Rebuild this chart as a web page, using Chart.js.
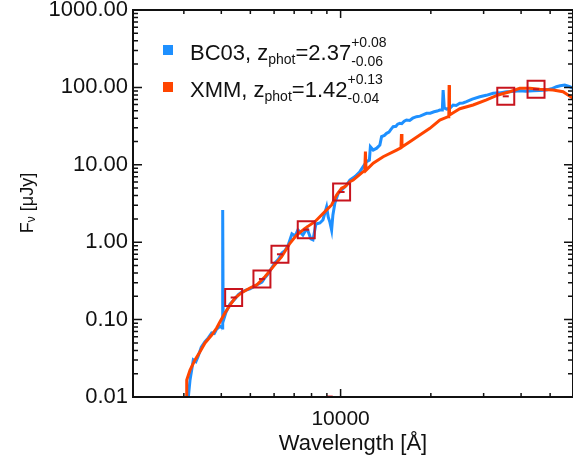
<!DOCTYPE html>
<html>
<head>
<meta charset="utf-8">
<script src="https://cdn.jsdelivr.net/npm/chart.js@4/dist/chart.umd.min.js"></script>
<style>
html, body { margin: 0; padding: 0; background: #fff; }
#wrap { width: 573px; height: 458px; }
</style>
</head>
<body>
<div id="wrap"><canvas id="sed" width="573" height="458"></canvas></div>
<script>
// BC03 best fit spectrum (observed wavelength in Angstrom, flux in microJy)
var bcWave = [3097, 3146, 3226, 3290, 3344, 3430, 3529, 3620, 3715, 3790, 3860, 3960, 4030, 4043, 4058, 4148,
  4276, 4443, 4560, 4677, 4830, 4983, 5120, 5248, 5465, 5600, 5724, 5880, 6039, 6200, 6372, 6520, 6673, 6881,
  7050, 7204, 7486, 7721, 7962, 8086, 8273, 8531, 8730, 8981, 9092, 9210, 9333, 9426, 9572, 9817, 10471, 10740,
  11200, 11594, 11893, 12209, 12474, 12570, 12845, 13200, 13521, 13699, 14000, 14234, 14500, 14700, 14973,
  15300, 15500, 15763, 16000, 16300, 16596, 17000, 17400, 17918, 18400, 18900, 19353, 19900, 20500, 21000,
  21429, 21844, 21979, 22182, 22600, 23135, 23728, 24300, 24984, 25600, 26303, 27500, 29126, 30600, 32276,
  33900, 35752, 37500, 39603, 41500, 43853, 46000, 48608, 50500, 52481, 54000, 55947, 58131, 59620];
var bcFlux = [0.009, 0.0166, 0.0301, 0.0285, 0.0332, 0.044, 0.0518, 0.058, 0.0671, 0.066, 0.0756, 0.082, 0.078,
  2.61, 0.095, 0.125, 0.159, 0.185, 0.21, 0.227, 0.24, 0.25, 0.265, 0.28, 0.306, 0.35, 0.388, 0.46, 0.539, 0.60,
  0.725, 0.78, 0.893, 1.28, 1.20, 1.44, 1.24, 1.52, 1.10, 1.07, 1.72, 1.77, 1.94, 2.85, 2.12, 1.82, 1.44, 2.25,
  3.21, 4.28, 5.48, 6.36, 7.1, 8.15, 9.45, 10.97, 11.5, 17.1, 15.5, 16.4, 18.0, 23.1, 24.0, 25.5, 26.5, 28.5,
  31.1, 31.5, 33.5, 34.4, 34.0, 36.5, 37.9, 37.5, 40.0, 41.8, 42.5, 44.5, 46.3, 46.5, 48.5, 49.5, 51.0, 51.0,
  92.6, 54.2, 52.5, 53.7, 59.2, 58.5, 62.3, 63.0, 65.3, 70.5, 75.8, 79.0, 83.9, 85.0, 88.0, 88.5, 90.7, 89.5,
  90.7, 91.5, 92.6, 96.0, 102, 105, 107.4, 102, 97.4];

// XMM template
var xmmWave = [3050, 3067, 3146, 3268, 3396, 3529, 3715, 3860, 3960, 4114, 4276, 4443, 4677, 4983, 5248, 5594,
  5962, 6360, 6776, 7134, 7603, 8210, 8865, 9333, 9698, 10077, 10335, 10740, 11015, 11893, 12040, 12100, 12160,
  12845, 13868, 15371, 15900, 15960, 16020, 17022, 18378, 19851, 21429, 22846, 22960, 23014, 23080, 24044,
  24984, 27669, 30668, 33521, 36667, 39603, 42756, 46157, 51133, 55208, 57372, 59620];
var xmmFlux = [0.009, 0.0166, 0.0223, 0.0301, 0.0385, 0.0499, 0.0632, 0.0779, 0.094, 0.122, 0.154, 0.190, 0.223,
  0.256, 0.280, 0.358, 0.483, 0.650, 0.968, 1.24, 1.51, 1.84, 2.48, 3.03, 4.07, 4.97, 5.21, 6.05, 6.36, 8.15,
  8.4, 14.8, 8.5, 10.5, 12.7, 15.5, 16.6, 25, 17, 19.9, 24.3, 29.6, 37.9, 41.8, 42.5, 107, 44, 48.5, 53, 59.2,
  68.8, 79.8, 88.0, 97.4, 97.4, 94.5, 92.6, 88.0, 79.8, 72.3];

// photometry
var photWave = [4398, 5465, 6276, 7680, 10077, 35560, 44870];
var photFlux = [0.193, 0.335, 0.698, 1.45, 4.45, 76.7, 94.8];
var limitWave = [9200];
var limitFlux = [0.01];

var yTicks = [0.01, 0.1, 1, 10, 100, 1000];
var xTicks = [10000];
var xMinor = [3000, 4000, 5000, 6000, 7000, 8000, 9000, 20000, 30000, 40000, 50000];

var FONT = '"Liberation Sans", Arial, Helvetica, sans-serif';
var INK = '#111';
var BLUE = '#1E90FF';
var ORANGE = '#FF4500';
var RED = '#C8141E';

var toPts = (xs, ys) => xs.map((x, i) => ({x: x, y: ys[i]}));

// draw a run of text pieces, each with its own size and vertical shift
var drawRich = (ctx, x, y, parts) => {
    parts.forEach((p) => {
        ctx.font = p.size + 'px ' + FONT;
        if (p.sup) {
            ctx.fillText(p.sup, x, y - 12.5);
            ctx.fillText(p.sub, x, y + 6);
            x += Math.max(ctx.measureText(p.sup).width, ctx.measureText(p.sub).width);
        } else {
            ctx.fillText(p.t, x, y + (p.dy || 0));
            x += ctx.measureText(p.t).width;
        }
    });
    return x;
};

var framePlugin = {
    id: 'frame',
    afterDraw(chart) {
        var ctx = chart.ctx, a = chart.chartArea, xs = chart.scales.x, ys = chart.scales.y;
        ctx.save();
        ctx.strokeStyle = INK;
        ctx.lineWidth = 2;
        ctx.strokeRect(a.left, a.top, a.right - a.left, a.bottom - a.top);
        ctx.lineWidth = 1.5;
        ctx.beginPath();
        var xTick = (v, len) => {
            var px = xs.getPixelForValue(v);
            ctx.moveTo(px, a.bottom); ctx.lineTo(px, a.bottom - len);
            ctx.moveTo(px, a.top); ctx.lineTo(px, a.top + len);
        };
        var yTick = (v, len) => {
            var py = ys.getPixelForValue(v);
            ctx.moveTo(a.left, py); ctx.lineTo(a.left + len, py);
            ctx.moveTo(a.right, py); ctx.lineTo(a.right - len, py);
        };
        xTicks.forEach((v) => xTick(v, 8));
        xMinor.forEach((v) => xTick(v, 4));
        yTicks.forEach((v) => yTick(v, 9));
        yTicks.slice(0, -1).forEach((d) => {
            for (let k = 2; k <= 9; k++) yTick(d * k, 5);
        });
        ctx.stroke();
        ctx.restore();
    }
};

var textPlugin = {
    id: 'texts',
    afterDraw(chart) {
        var ctx = chart.ctx;
        ctx.save();
        ctx.textBaseline = 'alphabetic';
        ctx.textAlign = 'left';
        // legend
        ctx.fillStyle = BLUE;
        ctx.fillRect(163, 45, 10, 10);
        ctx.fillStyle = ORANGE;
        ctx.fillRect(163, 82, 10, 10);
        ctx.fillStyle = INK;
        drawRich(ctx, 190, 59.5, [
            {t: 'BC03, z', size: 22}, {t: 'phot', size: 14, dy: 4}, {t: '=2.37', size: 22},
            {sup: '+0.08', sub: '-0.06', size: 14}
        ]);
        drawRich(ctx, 190, 96.5, [
            {t: 'XMM, z', size: 22}, {t: 'phot', size: 14, dy: 4}, {t: '=1.42', size: 22},
            {sup: '+0.13', sub: '-0.04', size: 14}
        ]);
        // y axis title
        var parts = [{t: 'F', size: 18}, {t: 'ν', size: 12, dy: 2}, {t: ' [μJy]', size: 18}];
        var w = 0;
        parts.forEach((p) => { ctx.font = p.size + 'px ' + FONT; w += ctx.measureText(p.t).width; });
        ctx.translate(33, 203);
        ctx.rotate(-Math.PI / 2);
        drawRich(ctx, -w / 2, 0, parts);
        ctx.restore();
    }
};

new Chart(document.getElementById('sed'), {
    type: 'scatter',
    data: {
        datasets: [
            {label: 'phot', data: toPts(photWave, photFlux), pointStyle: 'rect', pointRadius: 12,
                borderColor: RED, backgroundColor: 'rgba(0,0,0,0)', borderWidth: 2, order: 0},
            {label: 'photErr', data: toPts(photWave, photFlux), pointStyle: 'line', pointRadius: 3,
                borderColor: RED, borderWidth: 2, order: 0},
            {label: 'limit', data: toPts(limitWave, limitFlux), pointStyle: 'line', pointRadius: 3,
                borderColor: '#E8303A', borderWidth: 3, order: 0},
            {label: 'XMM', data: toPts(xmmWave, xmmFlux), showLine: true, borderColor: ORANGE,
                borderWidth: 3, pointRadius: 0, order: 1},
            {label: 'BC03', data: toPts(bcWave, bcFlux), showLine: true, borderColor: BLUE,
                borderWidth: 3, pointRadius: 0, order: 2}
        ]
    },
    options: {
        responsive: false,
        animation: false,
        devicePixelRatio: 1,
        layout: {autoPadding: false, padding: {top: 10, right: 0, left: 0, bottom: 0}},
        plugins: {legend: {display: false}, tooltip: {enabled: false}},
        scales: {
            x: {
                type: 'logarithmic', min: 2030, max: 59600, position: 'bottom',
                grid: {display: false, drawTicks: false}, border: {display: false},
                afterBuildTicks: (s) => { s.ticks = xTicks.map((v) => ({value: v})); },
                afterFit: (s) => { s.height = 61; s.paddingLeft = 0; s.paddingRight = 0; },
                ticks: {font: {family: FONT, size: 21}, color: INK, padding: 10, maxRotation: 0,
                    autoSkip: false, callback: (v) => String(v)},
                title: {display: true, text: 'Wavelength [Å]', font: {family: FONT, size: 22},
                    color: INK, padding: {top: 0, bottom: 1}}
            },
            y: {
                type: 'logarithmic', min: 0.01, max: 1000,
                grid: {display: false, drawTicks: false}, border: {display: false},
                afterBuildTicks: (s) => { s.ticks = yTicks.map((v) => ({value: v})); },
                afterFit: (s) => { s.width = 133; s.paddingTop = 0; s.paddingBottom = 0; },
                ticks: {font: {family: FONT, size: 22}, color: INK, padding: 5, autoSkip: false,
                    callback: (v) => Number(v).toFixed(2)}
            }
        }
    },
    plugins: [framePlugin, textPlugin]
});
</script>
</body>
</html>
